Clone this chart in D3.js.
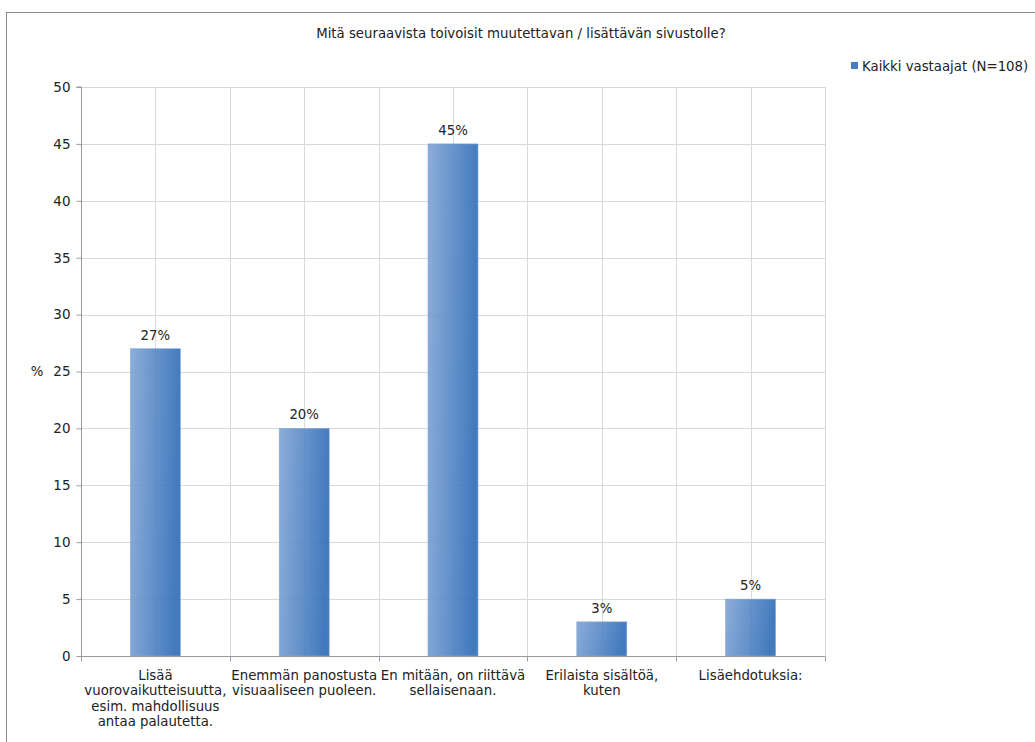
<!DOCTYPE html>
<html>
<head>
<meta charset="utf-8">
<script src="https://cdn.jsdelivr.net/npm/d3@7"></script>
<style>
  html, body { margin: 0; padding: 0; background: #fff; }
  svg { display: block; font-family: "DejaVu Sans", Verdana, sans-serif; }
</style>
</head>
<body>
<svg id="chart" width="1035" height="742"></svg>
<script>
const title = "Mitä seuraavista toivoisit muutettavan / lisättävän sivustolle?";
const seriesName = "Kaikki vastaajat (N=108)";
const categories = [
  ["Lisää", "vuorovaikutteisuutta,", "esim. mahdollisuus", "antaa palautetta."],
  ["Enemmän panostusta", "visuaaliseen puoleen."],
  ["En mitään, on riittävä", "sellaisenaan."],
  ["Erilaista sisältöä,", "kuten"],
  ["Lisäehdotuksia:"]
];
const values = [27, 20, 45, 3, 5];
const valueLabels = ["27%", "20%", "45%", "3%", "5%"];
const yTicks = [0, 5, 10, 15, 20, 25, 30, 35, 40, 45, 50];
const yAxisLabel = "%";

const svg = d3.select("#chart");
const fs = 13.3;
const textColor = "#222";

// Outer border
svg.append("rect").attr("x", 6.5).attr("y", 12.5).attr("width", 1040).attr("height", 740)
  .attr("fill", "none").attr("stroke", "#8c8c8c").attr("stroke-width", 1);

const pL = 81, pR = 825, pT = 87, pB = 656;
const idx = d3.range(categories.length);
const x = d3.scaleBand().domain(idx).range([pL, pR]).paddingInner(0).paddingOuter(0);
const y = d3.scaleLinear().domain([0, 50]).range([pB, pT]);

// gradient
const defs = svg.append("defs");
const grad = defs.append("linearGradient").attr("id", "barGrad")
  .attr("x1", "0").attr("y1", "0").attr("x2", "1").attr("y2", "0.15");
grad.append("stop").attr("offset", "0").attr("stop-color", "#80a4d4");
grad.append("stop").attr("offset", "1").attr("stop-color", "#2e6cb7");

// horizontal gridlines
svg.append("g").selectAll("line").data(yTicks.filter(d => d > 0)).join("line")
  .attr("x1", pL).attr("x2", pR)
  .attr("y1", d => Math.round(y(d)) + 0.5).attr("y2", d => Math.round(y(d)) + 0.5)
  .attr("stroke", "#d9d9d9");

// vertical gridlines at category boundaries and centres
const vLines = [];
idx.forEach(i => { vLines.push(x(i)); vLines.push(x(i) + x.bandwidth() / 2); });
vLines.push(pR);
svg.append("g").selectAll("line").data(vLines.slice(1)).join("line")
  .attr("x1", d => Math.round(d) + 0.5).attr("x2", d => Math.round(d) + 0.5)
  .attr("y1", pT).attr("y2", pB)
  .attr("stroke", "#d9d9d9");

// bars (slightly translucent so gridlines faintly show through)
const barW = 50;
svg.append("g").selectAll("rect").data(values).join("rect")
  .attr("x", (d, i) => x(i) + x.bandwidth() / 2 - barW / 2)
  .attr("width", barW)
  .attr("y", d => y(d))
  .attr("height", d => pB - y(d))
  .attr("fill", "url(#barGrad)")
  .attr("fill-opacity", 0.9)
  .attr("stroke", "#8aaad6").attr("stroke-width", 0.6);

// Y axis
const yAxis = d3.axisLeft(y).tickValues(yTicks).tickSize(5).tickPadding(6);
const gy = svg.append("g").attr("transform", `translate(${pL + 0.5},0)`).call(yAxis);
gy.select(".domain").attr("stroke", "#9a9a9a").attr("d", `M-5,${pT}H0V${pB}`);
gy.selectAll(".tick line").attr("stroke", "#9a9a9a");
gy.selectAll(".tick text").attr("font-size", 13.5).attr("fill", textColor)
  .attr("font-family", "DejaVu Sans, Verdana, sans-serif");

// X axis
const xAxis = d3.axisBottom(x).tickSize(0).tickFormat("");
const gx = svg.append("g").attr("transform", `translate(0,${pB + 0.5})`).call(xAxis);
gx.select(".domain").attr("stroke", "#9a9a9a").attr("d", `M${pL},0H${pR}`);
gx.selectAll(".tick").remove();
gx.selectAll("line.bnd").data(idx.map(i => x(i)).concat([pR])).join("line")
  .attr("class", "bnd")
  .attr("x1", d => Math.round(d) + 0.5).attr("x2", d => Math.round(d) + 0.5)
  .attr("y1", 0).attr("y2", 5).attr("stroke", "#9a9a9a");

// category labels
const catG = svg.append("g");
categories.forEach((lines, i) => {
  const t = catG.append("text")
    .attr("x", x(i) + x.bandwidth() / 2)
    .attr("y", 679.5)
    .attr("text-anchor", "middle")
    .attr("font-size", fs).attr("fill", textColor);
  lines.forEach((ln, j) => {
    t.append("tspan").attr("x", x(i) + x.bandwidth() / 2).attr("dy", j === 0 ? 0 : 15.6).text(ln);
  });
});

// value labels
svg.append("g").selectAll("text").data(values).join("text")
  .attr("x", (d, i) => x(i) + x.bandwidth() / 2)
  .attr("y", d => y(d) - 9)
  .attr("text-anchor", "middle")
  .attr("font-size", fs).attr("fill", textColor)
  .text((d, i) => valueLabels[i]);

// Y axis label
svg.append("text").attr("x", 37).attr("y", 376).attr("text-anchor", "middle")
  .attr("font-size", fs).attr("fill", textColor).text(yAxisLabel);

// title
svg.append("text").attr("x", 521).attr("y", 38).attr("text-anchor", "middle")
  .attr("font-size", fs).attr("fill", textColor).text(title);

// legend
svg.append("rect").attr("x", 851).attr("y", 62).attr("width", 7).attr("height", 7).attr("fill", "#4a7ec2");
svg.append("text").attr("x", 862).attr("y", 70.5).attr("font-size", fs).attr("fill", textColor).text(seriesName);
</script>
</body>
</html>
